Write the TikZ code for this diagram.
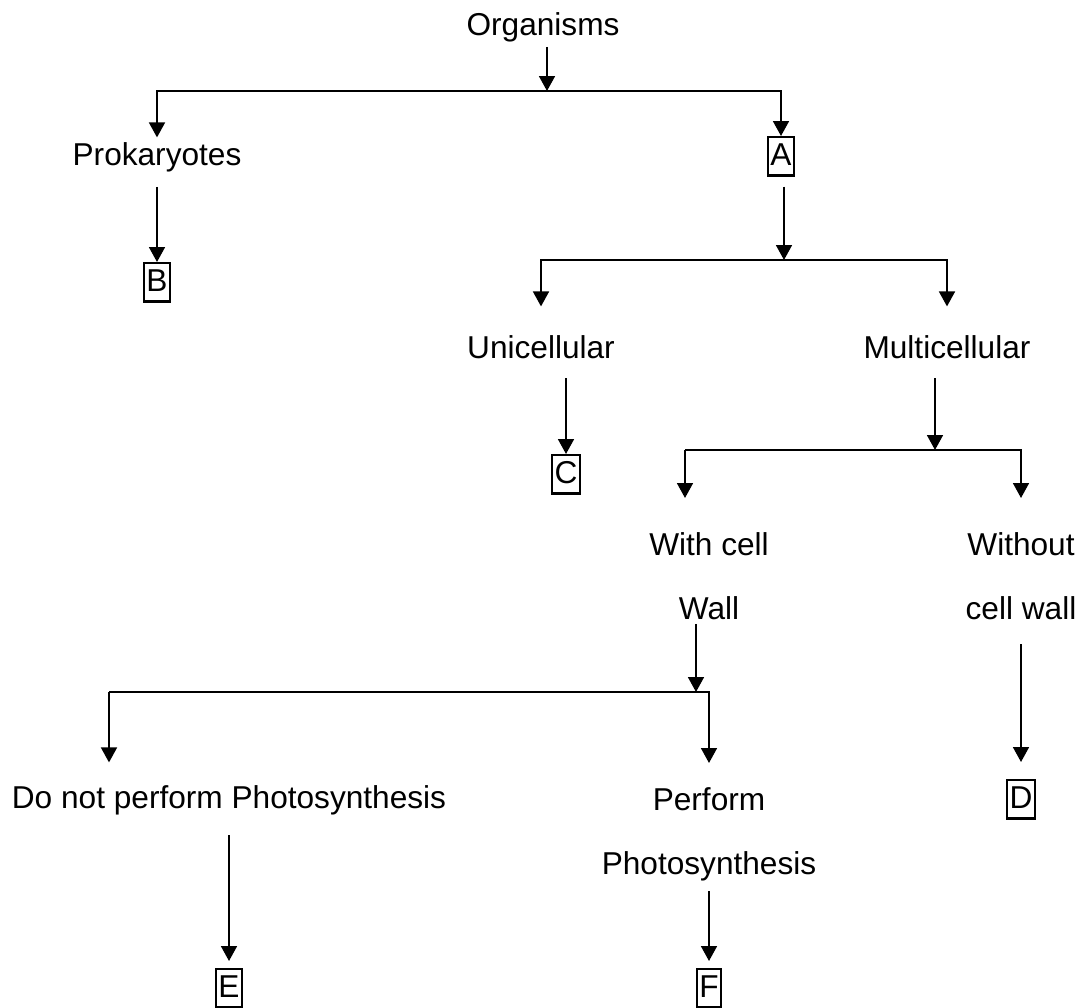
\documentclass[tikz,border=0pt]{standalone}
\usepackage{fontspec}
\setmainfont{Liberation Sans}
\usetikzlibrary{arrows.meta}

\begin{document}
\begin{tikzpicture}[
x=0.02cm, y=-0.02cm,
every node/.style = {font=\fontsize{18}{36.4}\selectfont, align=center, inner sep=2pt},
oneline/.style = {anchor=base, text height=13.5pt, text depth=4.5pt},
twoline/.style = {anchor=north},
answer/.style = {draw, line width=1.2pt, anchor=base, inner sep=1.5pt, text height=14.4pt, text depth=4.5pt},
arr/.style = {line width=1.2pt, -{Triangle[length=8.5pt, width=9pt]}},
bar/.style = {line width=1.2pt},
]
  \useasboundingbox (0,0) rectangle (1083,1008);

  \node[oneline] (org) at (543,35) {Organisms};
  \node[oneline] (prok) at (157,165) {Prokaryotes};
  \node[answer] (a) at (781,165) {A};
  \node[answer] (b) at (157,291) {B};
  \node[oneline] (uni) at (541,358) {Unicellular};
  \node[oneline] (multi) at (947,358) {Multicellular};
  \node[answer] (c) at (566,483) {C};
  \node[twoline] (wcw) at (709,529) {With cell\\Wall};
  \node[twoline] (wocw) at (1021,529) {Without\\cell wall};
  \node[oneline] (nops) at (229,808) {Do not perform Photosynthesis};
  \node[twoline] (ps) at (709,783.5) {Perform\\Photosynthesis};
  \node[answer] (d) at (1021,808) {D};
  \node[answer] (e) at (229,997) {E};
  \node[answer] (f) at (709,997) {F};

  \coordinate (s1) at (547,91);
  \coordinate (s2) at (784,260);
  \coordinate (s3) at (935,450);
  \coordinate (b3l) at (685,450);
  \coordinate (s4) at (696,692);
  \coordinate (b4l) at (109,692);

  \draw[arr] (org.south -| s1) -- (s1);
  \draw[arr] (s1) -| (prok.north);
  \draw[arr] (s1) -| (a.north);
  \draw[arr, shorten <=0.2cm] (prok.south) -- (b.north);

  \draw[arr, shorten <=0.2cm] (a.south -| s2) -- (s2);
  \draw[arr, shorten >=0.48cm] (s2) -| (uni.north);
  \draw[arr, shorten >=0.48cm] (s2) -| (multi.north);
  \draw[arr, shorten <=0.17cm] (uni.south -| c) -- (c.north);

  \draw[arr, shorten <=0.17cm] (multi.south -| s3) -- (s3);
  \draw[bar] (s3) -- (b3l);
  \draw[arr, shorten >=0.62cm] (b3l) -- (b3l |- wcw.north);
  \draw[arr, shorten >=0.62cm] (s3) -| (wocw.north);

  \draw[arr] (wcw.south -| s4) -- (s4);
  \draw[bar] (s4) -- (b4l);
  \draw[arr, shorten >=0.36cm] (b4l) -- (b4l |- nops.north);
  \draw[arr, shorten >=0.41cm] (s4) -| (ps.north);
  \draw[arr, shorten <=0.41cm, shorten >=0.34cm] (wocw.south -| d) -- (d.north);

  \draw[arr, shorten <=0.31cm, shorten >=0.14cm] (nops.south -| e) -- (e.north);
  \draw[arr, shorten <=0.13cm, shorten >=0.14cm] (ps.south -| f) -- (f.north);
\end{tikzpicture}
\end{document}
